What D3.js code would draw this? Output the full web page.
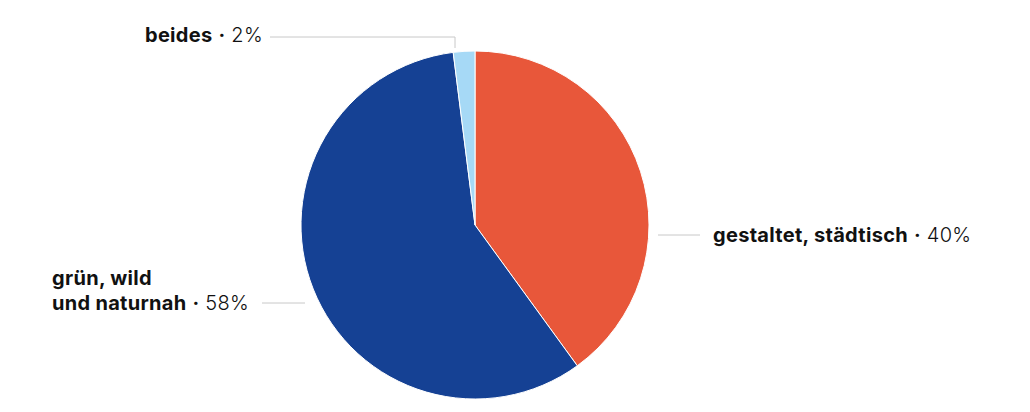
<!DOCTYPE html>
<html><head><meta charset="utf-8">
<script src="https://cdn.jsdelivr.net/npm/d3@7"></script>
<style>
html,body{margin:0;padding:0;background:#fff;}
svg{display:block;font-family:Inter,"Noto Sans",sans-serif;}
</style></head>
<body><svg id="c" width="1030" height="412"></svg>
<script>
const categories = ["gestaltet, städtisch", "grün, wild und naturnah", "beides"];
const values = [40, 58, 2];
const colors = ["#E8573A", "#154194", "#A6D9F6"];

const W = 1030, H = 412;
const cx = 475, cy = 225, R = 174;
const svg = d3.select("#c");
const g = svg.append("g").attr("transform", `translate(${cx},${cy})`);

const data = categories.map((c, i) => ({cat: c, value: values[i], color: colors[i]}));
const pie = d3.pie().value(d => d.value).sort(null);
const arc = d3.arc().innerRadius(0).outerRadius(R);
const arcs = pie(data);

g.selectAll("path").data(arcs).join("path")
  .attr("d", arc)
  .attr("fill", d => d.data.color)
  .attr("stroke", "#fff")
  .attr("stroke-width", 1);

// label layout (positions per slice)
const layout = [
  {lines: ["gestaltet, städtisch"], x: 713, y: 242, line: [[658,235],[700,235]]},
  {lines: ["grün, wild", "und naturnah"], x: 52, y: 285, line: [[262,303],[305,303]]},
  {lines: ["beides"], x: 145, y: 42, line: [[270,37],[455,37],[455,48]]}
];

const lab = svg.append("g");
arcs.forEach((a, i) => {
  const L = layout[i];
  lab.append("path")
    .attr("d", d3.line()(L.line))
    .attr("fill", "none").attr("stroke", "#c8c8c8").attr("stroke-width", 1);
  const t = lab.append("text").attr("x", L.x).attr("y", L.y)
    .attr("font-size", 20).attr("letter-spacing", 0.3).attr("fill", "#111");
  L.lines.forEach((ln, j) => {
    const ts = t.append("tspan").attr("font-weight", 700).text(ln);
    if (j > 0) ts.attr("x", L.x).attr("dy", 25);
    if (j === L.lines.length - 1) {
      t.append("tspan").attr("font-weight", 400).text(" ");
      t.append("tspan").attr("font-weight", 700).text("\u00B7");
      t.append("tspan").attr("font-weight", 300).text(" " + a.data.value + "%");
    }
  });
});
</script></body></html>
